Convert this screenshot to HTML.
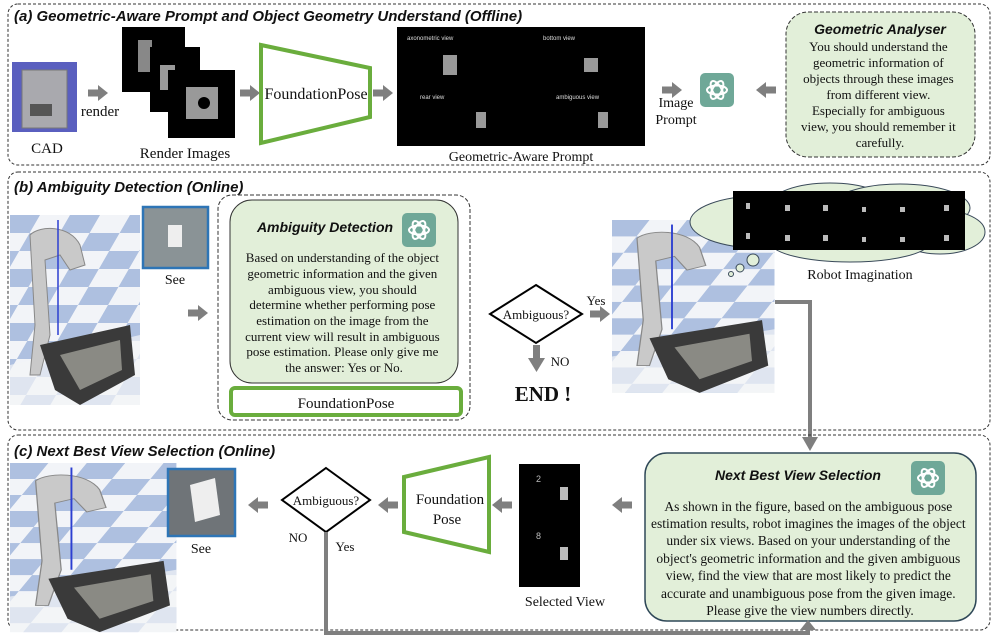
<!DOCTYPE html>
<html><head><meta charset="utf-8"><style>
html,body{margin:0;padding:0;background:#fff;}
svg{display:block;}
.t{font-family:"Liberation Serif",serif;fill:#111;}
.h{font-family:"Liberation Sans",sans-serif;font-weight:bold;font-style:italic;fill:#111;}
.s{font-family:"Liberation Sans",sans-serif;font-size:6px;fill:#ddd;}
</style></head><body>
<svg width="997" height="640" viewBox="0 0 997 640" xmlns="http://www.w3.org/2000/svg">
<defs>
<g id="arrR"><rect x="0" y="-3.5" width="11" height="7" fill="#7f7f7f"/><polygon points="10,-8 20,0 10,8" fill="#7f7f7f"/></g>
<g id="gpt"><rect x="0" y="0" width="34" height="34" rx="5" fill="#6fa898"/>
<g fill="none" stroke="#fff" stroke-width="2">
<ellipse cx="17" cy="17" rx="10" ry="4.5"/><ellipse cx="17" cy="17" rx="10" ry="4.5" transform="rotate(60 17 17)"/><ellipse cx="17" cy="17" rx="10" ry="4.5" transform="rotate(120 17 17)"/></g></g>
<pattern id="chk" width="60" height="60" patternUnits="userSpaceOnUse" patternTransform="skewX(-30) scale(1,0.6)">
<rect width="60" height="60" fill="#f2f4f8"/><rect width="30" height="30" fill="#aec0e0"/><rect x="30" y="30" width="30" height="30" fill="#aec0e0"/></pattern>
<g id="robot">
<rect width="130" height="190" fill="url(#chk)"/>
<polygon points="0,150 130,120 130,190 0,190" fill="#f4f5f7" opacity="0.7"/>
<path d="M20 20 C30 10 60 10 70 30 L75 50 L60 55 L50 40 L35 45 L40 120 L30 160 L20 160 L25 110 Z" fill="#c9c9c9" stroke="#888" stroke-width="1"/>
<line x1="48" y1="5" x2="48" y2="120" stroke="#2c3fd1" stroke-width="1.5"/>
<polygon points="30,130 120,110 125,160 70,190 45,175" fill="#3a3a3a"/>
<polygon points="50,140 110,125 112,155 70,175" fill="#8a8a84"/>
</g>
</defs>

<!-- Panel a -->
<rect x="8" y="4" width="982" height="161" rx="10" fill="none" stroke="#333" stroke-width="1" stroke-dasharray="3,2"/>
<text x="14" y="21" class="h" style="font-size:15px">(a) Geometric-Aware Prompt and Object Geometry Understand (Offline)</text>
<rect x="12" y="62" width="65" height="70" fill="#5a5fbf"/>
<rect x="22" y="70" width="45" height="58" fill="#a9a9ae" stroke="#777"/>
<rect x="30" y="104" width="22" height="12" fill="#555"/>
<text x="47" y="153" class="t" style="font-size:15px" text-anchor="middle">CAD</text>
<use href="#arrR" x="88" y="93"/>
<text x="100" y="116" class="t" style="font-size:15px" text-anchor="middle">render</text>
<rect x="122" y="27" width="63" height="65" fill="#000"/>
<rect x="138" y="40" width="14" height="32" fill="#888"/>
<rect x="150" y="47" width="50" height="65" fill="#000"/>
<rect x="160" y="65" width="15" height="25" fill="#999"/>
<rect x="168" y="70" width="67" height="68" fill="#000"/>
<rect x="186" y="87" width="32" height="32" fill="#999"/><circle cx="204" cy="103" r="6" fill="#000"/>
<text x="185" y="158" class="t" style="font-size:15px" text-anchor="middle">Render Images</text>
<use href="#arrR" x="240" y="93"/>
<polygon points="261,45 370,68 370,117 261,143" fill="#fff" stroke="#6aad3d" stroke-width="4"/>
<text x="316" y="99" class="t" style="font-size:16px" text-anchor="middle">FoundationPose</text>
<use href="#arrR" x="373" y="93"/>
<rect x="397" y="27" width="248" height="119" fill="#000"/>
<text x="407" y="40" class="s">axonometric view</text>
<text x="543" y="40" class="s">bottom view</text>
<text x="420" y="99" class="s">rear view</text>
<text x="556" y="99" class="s">ambiguous view</text>
<rect x="443" y="55" width="14" height="20" fill="#999"/>
<rect x="584" y="58" width="14" height="14" fill="#999"/>
<rect x="476" y="112" width="10" height="16" fill="#999"/>
<rect x="598" y="112" width="10" height="16" fill="#999"/>
<text x="521" y="161" class="t" style="font-size:14px" text-anchor="middle">Geometric-Aware Prompt</text>
<use href="#arrR" x="662" y="90"/>
<text x="676" y="107" class="t" style="font-size:14px" text-anchor="middle">Image</text>
<text x="676" y="124" class="t" style="font-size:14px" text-anchor="middle">Prompt</text>
<use href="#gpt" x="700" y="73"/>
<use href="#arrR" transform="translate(776,90) scale(-1,1)"/>
<rect x="786" y="12" width="189" height="145" rx="22" fill="#e2efd9" stroke="#333" stroke-width="1" stroke-dasharray="4,2"/>
<text x="880" y="34" class="h" style="font-size:14px" text-anchor="middle">Geometric Analyser</text>
<text class="t" style="font-size:13px" text-anchor="middle">
<tspan x="880" y="51">You should understand the</tspan>
<tspan x="880" y="67">geometric information of</tspan>
<tspan x="880" y="83">objects through these images</tspan>
<tspan x="880" y="99">from different view.</tspan>
<tspan x="880" y="115">Especially for ambiguous</tspan>
<tspan x="880" y="131">view, you should remember it</tspan>
<tspan x="880" y="147">carefully.</tspan></text>

<!-- Panel b -->
<rect x="8" y="172" width="982" height="258" rx="10" fill="none" stroke="#333" stroke-width="1" stroke-dasharray="3,2"/>
<text x="14" y="192" class="h" style="font-size:15px">(b) Ambiguity Detection (Online)</text>
<use href="#robot" x="10" y="215"/>
<rect x="143" y="207" width="65" height="61" fill="#8a9396" stroke="#2e75b6" stroke-width="2.5"/>
<rect x="168" y="225" width="14" height="22" fill="#eee"/>
<text x="175" y="284" class="t" style="font-size:14px" text-anchor="middle">See</text>
<use href="#arrR" x="188" y="313"/>
<rect x="218" y="195" width="252" height="225" rx="14" fill="none" stroke="#333" stroke-width="1" stroke-dasharray="4,2"/>
<rect x="230" y="200" width="228" height="183" rx="22" fill="#e2efd9" stroke="#333" stroke-width="1"/>
<text x="325" y="232" class="h" style="font-size:14px" text-anchor="middle">Ambiguity Detection</text>
<use href="#gpt" x="402" y="213"/>
<text class="t" style="font-size:13px" text-anchor="middle">
<tspan x="344" y="262">Based on understanding of the object</tspan>
<tspan x="344" y="278">geometric information and the given</tspan>
<tspan x="344" y="294">ambiguous view, you should</tspan>
<tspan x="344" y="309">determine whether performing pose</tspan>
<tspan x="344" y="325">estimation on the image from the</tspan>
<tspan x="344" y="341">current view will result in ambiguous</tspan>
<tspan x="344" y="356">pose estimation. Please only give me</tspan>
<tspan x="344" y="372">the answer: Yes or No.</tspan></text>
<rect x="231" y="388" width="230" height="27" rx="4" fill="#fff" stroke="#6aad3d" stroke-width="4"/>
<text x="346" y="408" class="t" style="font-size:15px" text-anchor="middle">FoundationPose</text>
<polygon points="536,285 582,314 536,343 490,314" fill="#fff" stroke="#000" stroke-width="2"/>
<text x="536" y="319" class="t" style="font-size:13px" text-anchor="middle">Ambiguous?</text>
<use href="#arrR" x="590" y="314"/>
<text x="596" y="305" class="t" style="font-size:13px" text-anchor="middle">Yes</text>
<rect x="533" y="345" width="7" height="16" fill="#7f7f7f"/><polygon points="528,358 545,358 536.5,372" fill="#7f7f7f"/>
<text x="560" y="366" class="t" style="font-size:13px" text-anchor="middle">NO</text>
<text x="543" y="401" class="t" style="font-size:21px;font-weight:bold" text-anchor="middle">END !</text>
<use href="#robot" transform="translate(612,220) scale(1.25,0.91)"/>
<!-- cloud -->
<g fill="#e2efd9" stroke="#3a4a5a" stroke-width="1">
<ellipse cx="760" cy="222" rx="70" ry="26"/><ellipse cx="830" cy="205" rx="60" ry="22"/><ellipse cx="900" cy="208" rx="70" ry="24"/>
<ellipse cx="940" cy="232" rx="45" ry="22"/><ellipse cx="850" cy="242" rx="80" ry="20"/>
<circle cx="753" cy="260" r="6"/><circle cx="740" cy="268" r="4"/><circle cx="731" cy="274" r="2.5"/></g>
<rect x="733" y="191" width="232" height="59" fill="#000"/>
<g fill="#bbb"><rect x="746" y="203" width="4" height="6"/><rect x="785" y="205" width="5" height="6"/><rect x="823" y="205" width="5" height="6"/><rect x="862" y="207" width="4" height="5"/><rect x="900" y="207" width="5" height="5"/><rect x="944" y="205" width="5" height="6"/>
<rect x="746" y="233" width="4" height="6"/><rect x="785" y="235" width="5" height="6"/><rect x="823" y="235" width="5" height="6"/><rect x="862" y="237" width="4" height="5"/><rect x="900" y="237" width="5" height="5"/><rect x="944" y="235" width="5" height="6"/></g>
<text x="860" y="279" class="t" style="font-size:14px" text-anchor="middle">Robot Imagination</text>
<polyline points="775,302 810,302 810,440" fill="none" stroke="#7f7f7f" stroke-width="4"/>
<polygon points="802,437 818,437 810,451" fill="#7f7f7f"/>

<!-- Panel c -->
<rect x="8" y="435" width="982" height="195" rx="10" fill="none" stroke="#333" stroke-width="1" stroke-dasharray="3,2"/>
<text x="14" y="456" class="h" style="font-size:15px">(c) Next Best View Selection (Online)</text>
<use href="#robot" transform="translate(10,463) scale(1.28,0.89)"/>
<rect x="168" y="469" width="67" height="67" fill="#6f7478" stroke="#2e75b6" stroke-width="2.5"/>
<polygon points="190,485 215,478 220,515 195,522" fill="#eee"/>
<text x="201" y="553" class="t" style="font-size:14px" text-anchor="middle">See</text>
<use href="#arrR" transform="translate(268,505) scale(-1,1)"/>
<polygon points="326,468 370,500 326,532 282,500" fill="#fff" stroke="#000" stroke-width="2"/>
<text x="326" y="505" class="t" style="font-size:13px" text-anchor="middle">Ambiguous?</text>
<text x="298" y="542" class="t" style="font-size:13px" text-anchor="middle">NO</text>
<text x="345" y="551" class="t" style="font-size:13px" text-anchor="middle">Yes</text>
<use href="#arrR" transform="translate(398,505) scale(-1,1)"/>
<polygon points="404,477 489,457 489,552 404,532" fill="#fff" stroke="#6aad3d" stroke-width="4"/>
<text x="450" y="504" class="t" style="font-size:15px" text-anchor="middle">Foundation</text>
<text x="447" y="524" class="t" style="font-size:15px" text-anchor="middle">Pose</text>
<use href="#arrR" transform="translate(512,505) scale(-1,1)"/>
<rect x="519" y="464" width="61" height="123" fill="#000"/>
<text x="536" y="482" fill="#bbb" font-family="Liberation Sans,sans-serif" font-size="9">2</text>
<text x="536" y="539" fill="#bbb" font-family="Liberation Sans,sans-serif" font-size="9">8</text>
<rect x="560" y="487" width="8" height="13" fill="#bbb"/><rect x="560" y="547" width="8" height="13" fill="#bbb"/>
<text x="565" y="606" class="t" style="font-size:14px" text-anchor="middle">Selected View</text>
<use href="#arrR" transform="translate(632,505) scale(-1,1)"/>
<rect x="645" y="453" width="331" height="168" rx="22" fill="#e2efd9" stroke="#2f4858" stroke-width="1.5"/>
<text x="798" y="480" class="h" style="font-size:14px" text-anchor="middle">Next Best View Selection</text>
<use href="#gpt" x="911" y="461"/>
<text class="t" style="font-size:13.5px" text-anchor="middle">
<tspan x="810" y="511">As shown in the figure, based on the ambiguous pose</tspan>
<tspan x="810" y="528">estimation results, robot imagines the images of the object</tspan>
<tspan x="810" y="545">under six views. Based on your understanding of the</tspan>
<tspan x="810" y="563">object's geometric information and the given ambiguous</tspan>
<tspan x="810" y="580">view, find the view that are most likely to predict the</tspan>
<tspan x="810" y="598">accurate and unambiguous pose from the given image.</tspan>
<tspan x="810" y="615">Please give the view numbers directly.</tspan></text>
<polyline points="326,532 326,633 808,633" fill="none" stroke="#7f7f7f" stroke-width="4"/>
<line x1="808" y1="635" x2="808" y2="628" stroke="#7f7f7f" stroke-width="4"/>
<polygon points="800,630 816,630 808,620" fill="#7f7f7f"/>
</svg>
</body></html>
